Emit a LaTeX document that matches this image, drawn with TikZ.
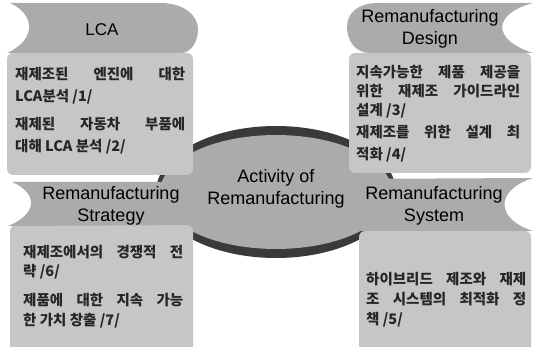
\documentclass[tikz,border=0pt]{standalone}
\usepackage{fontspec}
\setmainfont{Liberation Sans}
\newfontfamily\krfont{Noto Sans CJK KR}
\definecolor{tabgray}{HTML}{ABABAB}
\definecolor{boxgray}{HTML}{C6C6C6}
\definecolor{rimgray}{HTML}{3A3A3A}
\tikzset{
  tabshape/.style={fill=tabgray},
  boxshape/.style={fill=boxgray, rounded corners=6pt},
  tablabel/.style={font=\fontsize{18}{22}\selectfont, align=center, inner sep=0pt, text=black},
  krline/.style={font=\krfont\bfseries\fontsize{14.5}{16}\selectfont, anchor=base west, inner sep=0pt, text=black!85},
}
\newcommand\fullline[2]{\makebox[#1][s]{#2}}
\begin{document}
\begin{tikzpicture}[x=1pt,y=-1pt]
\useasboundingbox (0,0) rectangle (533,347);
% central disc
\fill[rimgray] (276,192) ellipse [x radius=120pt, y radius=66pt];
\fill[tabgray] (276,192) ellipse [x radius=116pt, y radius=57pt];
% boxes
\fill[boxshape] (7,53) rectangle (193,175);
\fill[boxshape] (349,53) rectangle (531,173);
\fill[boxshape] (10,225) rectangle (193,365);
\fill[boxshape] (359,231) rectangle (531,365);
% tabs
\fill[tabshape] (10,3) -- (160,3) .. controls (186,3) and (198,17) .. (198,29)
  .. controls (198,41) and (192,52) .. (182,53) -- (7,53)
  .. controls (36,40) and (36,15) .. (10,3) -- cycle;
\fill[tabshape] (378,3) -- (533,3) .. controls (492,14) and (492,40) .. (533,53)
  -- (370,53) .. controls (355,53) and (347,40) .. (347,27)
  .. controls (347,13) and (358,3) .. (378,3) -- cycle;
\fill[tabshape] (12,182) -- (210,182) .. controls (228,182) and (236,194) .. (236,204)
  .. controls (236,215) and (228,225) .. (210,225) -- (8,226)
  .. controls (38,214) and (38,193) .. (12,182) -- cycle;
\fill[tabshape] (340,179) -- (533,178) .. controls (495,190) and (495,219) .. (533,231)
  -- (340,231) .. controls (325,231) and (318,219) .. (318,205)
  .. controls (318,190) and (325,179) .. (340,179) -- cycle;
% tab labels
\node[tablabel, font=\fontsize{17}{20}\selectfont] (lcat) at (102,30) {LCA};
\node[tablabel] (dest) at (430,29) {Remanufacturing\\Design};
\node[tablabel] (strt) at (111,206) {Remanufacturing\\Strategy};
\node[tablabel] (syst) at (434,206) {Remanufacturing\\System};
\node[tablabel] (act) at (276,189) {Activity of\\Remanufacturing};
% LCA box
\node[krline] (l1) at (15,80) {\fullline{170pt}{재제조된 엔진에 대한}};
\node[krline] (l2) at (15,102) {LCA분석 /1/};
\node[krline] (l3) at (15,130) {\fullline{170pt}{재제된 자동차 부품에}};
\node[krline] (l4) at (15,152) {대해 LCA 분석 /2/};
% Design box
\node[krline] (d1) at (356,78) {\fullline{164pt}{지속가능한 제품 제공을}};
\node[krline] (d2) at (356,97) {\fullline{164pt}{위한 재제조 가이드라인}};
\node[krline] (d3) at (356,116) {설계 /3/};
\node[krline] (d4) at (356,138) {\fullline{164pt}{재제조를 위한 설계 최}};
\node[krline] (d5) at (356,160) {적화 /4/};
% Strategy box
\node[krline] (s1) at (23,258) {\fullline{160pt}{재제조에서의 경쟁적 전}};
\node[krline] (s2) at (23,277) {략 /6/};
\node[krline] (s3) at (23,306) {\fullline{160pt}{제품에 대한 지속 가능}};
\node[krline] (s4) at (23,326) {한 가치 창출 /7/};
% System box
\node[krline] (y1) at (366,285) {\fullline{160pt}{하이브리드 제조와 재제}};
\node[krline] (y2) at (366,305) {\fullline{160pt}{조 시스템의 최적화 정}};
\node[krline] (y3) at (366,325) {책 /5/};
\end{tikzpicture}
\end{document}
